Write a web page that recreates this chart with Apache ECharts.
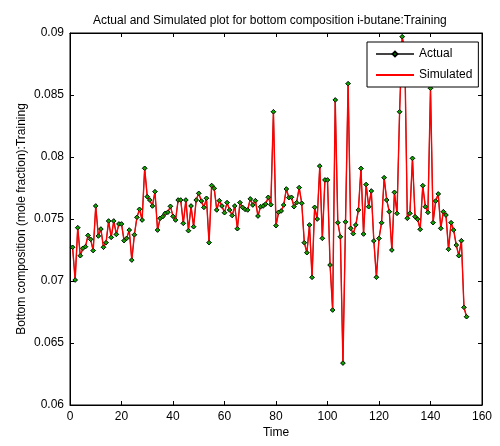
<!DOCTYPE html>
<html>
<head>
<meta charset="utf-8">
<script src="https://cdn.jsdelivr.net/npm/echarts@6/dist/echarts.min.js"></script>
<style>
html,body{margin:0;padding:0;background:#fff;}
#chart{width:500px;height:446px;}
</style>
</head>
<body>
<div id="chart"></div>
<script>
// Time index (1..154) and bottom composition values
const timeStart = 1;
const actual = [
0.07272,0.07008,0.07430,0.07204,0.07264,0.07277,0.07368,0.07336,0.07245,0.07605,
0.07363,0.07419,0.07272,0.07309,0.07484,0.07352,0.07484,0.07376,0.07460,0.07460,
0.07325,0.07344,0.07411,0.07169,0.07373,0.07514,0.07578,0.07492,0.07909,0.07680,
0.07653,0.07605,0.07720,0.07411,0.07506,0.07519,0.07546,0.07555,0.07602,0.07522,
0.07492,0.07653,0.07653,0.07465,0.07653,0.07406,0.07605,0.07438,0.07653,0.07707,
0.07645,0.07594,0.07667,0.07309,0.07770,0.07747,0.07573,0.07648,0.07605,0.07551,
0.07632,0.07573,0.07528,0.07605,0.07422,0.07632,0.07594,0.07578,0.07573,0.07662,
0.07613,0.07648,0.07524,0.07599,0.07605,0.07621,0.07675,0.07615,0.08365,0.07446,
0.07554,0.07565,0.07613,0.07742,0.07672,0.07675,0.07599,0.07632,0.07753,0.07627,
0.07309,0.07228,0.07452,0.07030,0.07594,0.07500,0.07927,0.07344,0.07815,0.07815,
0.07129,0.06766,0.08460,0.07470,0.07357,0.06338,0.07477,0.08591,0.07425,0.07382,
0.07452,0.07573,0.07908,0.07379,0.07778,0.07599,0.07726,0.07323,0.07030,0.07344,
0.07470,0.07833,0.07653,0.07559,0.07250,0.07715,0.07546,0.08365,0.08970,0.08850,
0.07506,0.07546,0.07989,0.07519,0.07498,0.07417,0.07769,0.07599,0.07554,0.08554,
0.07470,0.07645,0.07702,0.07425,0.07559,0.07532,0.07256,0.07470,0.07411,0.07290,
0.07204,0.07325,0.06788,0.06712
];
// Simulated curve overlaps the actual curve in the reference
const simulated = actual.slice();
const xTicks = [0,20,40,60,80,100,120,140,160];
const yTicks = [0.06,0.065,0.07,0.075,0.08,0.085,0.09];

const actualPts = actual.map((v,i)=>[timeStart+i, v]);
const simPts = simulated.map((v,i)=>[timeStart+i, v]);

const FONT = "'Liberation Sans', Arial, Helvetica, sans-serif";
const chart = echarts.init(document.getElementById('chart'), null, {renderer:'canvas'});

const xBase = {
  type:'value', min:xTicks[0], max:xTicks[xTicks.length-1], interval:20,
  splitLine:{show:false},
  axisLine:{show:true, onZero:false, lineStyle:{color:'#000', width:1}},
  axisTick:{show:true, inside:true, length:4, lineStyle:{color:'#000'}}
};
const yBase = {
  type:'value', min:yTicks[0], max:yTicks[yTicks.length-1], interval:0.005,
  splitLine:{show:false},
  axisLine:{show:true, onZero:false, lineStyle:{color:'#000', width:1}},
  axisTick:{show:true, inside:true, length:4, lineStyle:{color:'#000'}}
};

chart.setOption({
  animation:false,
  backgroundColor:'#fff',
  textStyle:{fontFamily:FONT},
  title:{
    text:'Actual and Simulated plot for bottom composition i-butane:Training',
    left:88, top:10,
    textStyle:{fontFamily:FONT, fontSize:12, fontWeight:'normal', color:'#000'}
  },
  grid:{left:70, right:18, top:33, bottom:41, show:true, borderColor:'#000', borderWidth:1, backgroundColor:'#fff'},
  legend:{
    data:[
      {name:'Actual'},
      {name:'Simulated', itemStyle:{opacity:0}}
    ],
    orient:'vertical', left:367, top:42,
    padding:[6,6,6,8], itemGap:9, itemWidth:38, itemHeight:6,
    backgroundColor:'#fff', borderColor:'#000', borderWidth:1, borderRadius:0,
    textStyle:{fontFamily:FONT, fontSize:12, color:'#000'},
    z:10
  },
  xAxis:[
    Object.assign({}, xBase, {
      position:'bottom',
      name:'Time', nameLocation:'middle', nameGap:22, nameMoveOverlap:false,
      nameTextStyle:{fontFamily:FONT, fontSize:12, color:'#000'},
      axisLabel:{color:'#000', fontFamily:FONT, fontSize:12, margin:6}
    }),
    Object.assign({}, xBase, {position:'top', axisLabel:{show:false}})
  ],
  yAxis:[
    Object.assign({}, yBase, {
      position:'left',
      name:'Bottom composition (mole fraction):Training', nameLocation:'middle', nameGap:42, nameMoveOverlap:false,
      nameTextStyle:{fontFamily:FONT, fontSize:12, color:'#000'},
      axisLabel:{color:'#000', fontFamily:FONT, fontSize:12, margin:6,
        formatter:v=>String(+v.toFixed(3))}
    }),
    Object.assign({}, yBase, {position:'right', axisLabel:{show:false}})
  ],
  series:[
    {
      name:'Actual', type:'line', data:actualPts, z:2,
      symbol:'diamond', symbolSize:4.5, showSymbol:true,
      lineStyle:{color:'#444', width:1},
      itemStyle:{color:'#00b000', borderColor:'#000', borderWidth:0.8}
    },
    {
      name:'Simulated', type:'line', data:simPts, z:3,
      symbol:'none', showSymbol:false,
      lineStyle:{color:'#ff0000', width:1.4},
      itemStyle:{color:'#ff0000'}
    },
    {
      name:'Actual', type:'scatter', data:actualPts, z:4,
      symbol:'diamond', symbolSize:4.5,
      itemStyle:{color:'#00b000', borderColor:'#000', borderWidth:0.8}
    }
  ]
});
</script>
</body>
</html>
